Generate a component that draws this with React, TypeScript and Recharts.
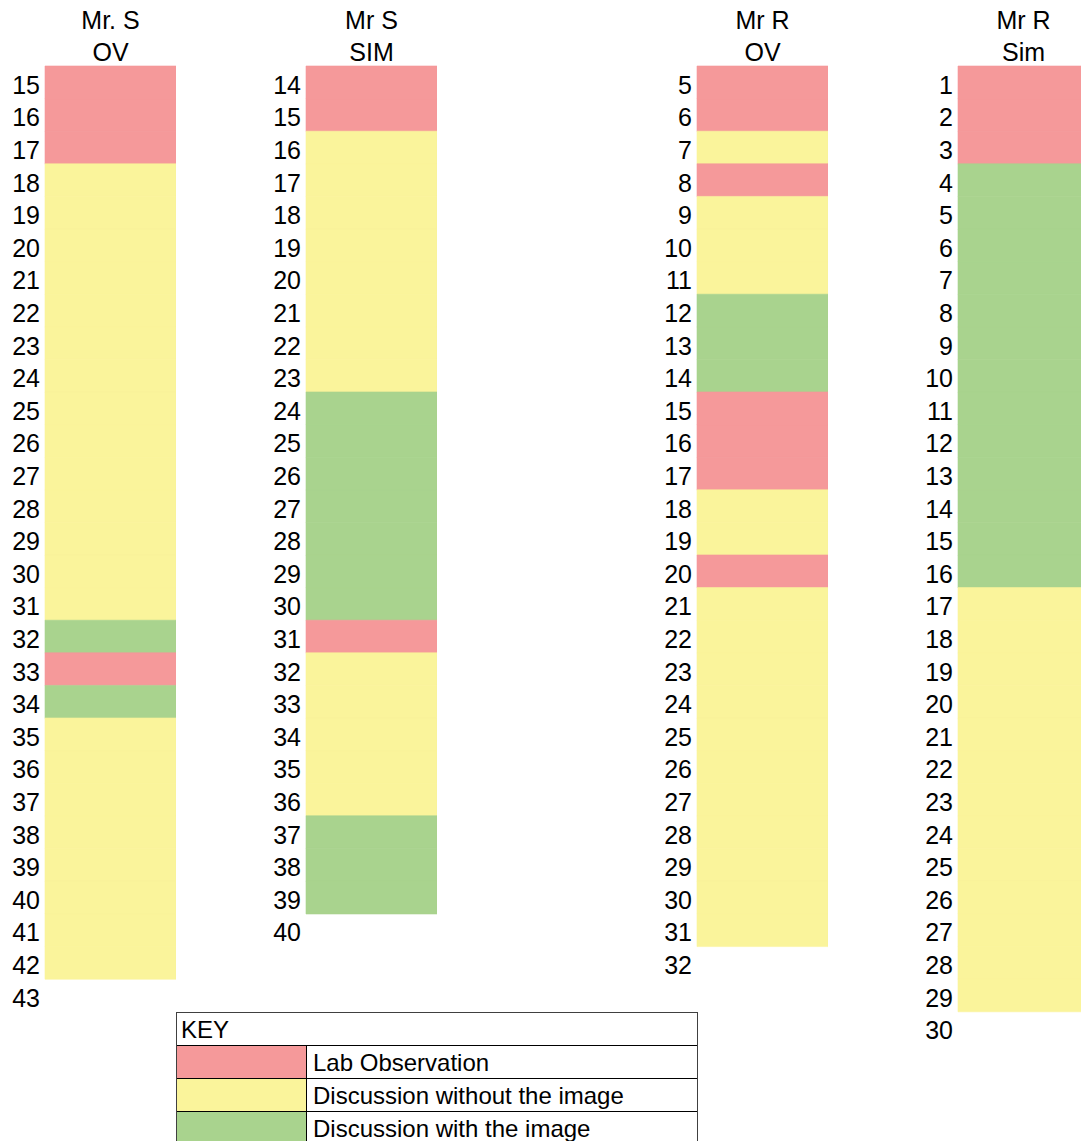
import { Bar, BarChart, Cell, XAxis, YAxis } from 'recharts';

// L = lab observation, N = discussion without the image, W = discussion with the image, '' = no segment
const COLORS: Record<string, string> = {
  L: '#F5999A',
  N: '#FAF49B',
  W: '#A9D38E',
};

const mrSOvRows = ['15', '16', '17', '18', '19', '20', '21', '22', '23', '24', '25', '26', '27', '28', '29', '30', '31', '32', '33', '34', '35', '36', '37', '38', '39', '40', '41', '42', '43'];
const mrSOvCodes = ['L', 'L', 'L', 'N', 'N', 'N', 'N', 'N', 'N', 'N', 'N', 'N', 'N', 'N', 'N', 'N', 'N', 'W', 'L', 'W', 'N', 'N', 'N', 'N', 'N', 'N', 'N', 'N', ''];

const mrSSimRows = ['14', '15', '16', '17', '18', '19', '20', '21', '22', '23', '24', '25', '26', '27', '28', '29', '30', '31', '32', '33', '34', '35', '36', '37', '38', '39', '40'];
const mrSSimCodes = ['L', 'L', 'N', 'N', 'N', 'N', 'N', 'N', 'N', 'N', 'W', 'W', 'W', 'W', 'W', 'W', 'W', 'L', 'N', 'N', 'N', 'N', 'N', 'W', 'W', 'W', ''];

const mrROvRows = ['5', '6', '7', '8', '9', '10', '11', '12', '13', '14', '15', '16', '17', '18', '19', '20', '21', '22', '23', '24', '25', '26', '27', '28', '29', '30', '31', '32'];
const mrROvCodes = ['L', 'L', 'N', 'L', 'N', 'N', 'N', 'W', 'W', 'W', 'L', 'L', 'L', 'N', 'N', 'L', 'N', 'N', 'N', 'N', 'N', 'N', 'N', 'N', 'N', 'N', 'N', ''];

const mrRSimRows = ['1', '2', '3', '4', '5', '6', '7', '8', '9', '10', '11', '12', '13', '14', '15', '16', '17', '18', '19', '20', '21', '22', '23', '24', '25', '26', '27', '28', '29', '30'];
const mrRSimCodes = ['L', 'L', 'L', 'W', 'W', 'W', 'W', 'W', 'W', 'W', 'W', 'W', 'W', 'W', 'W', 'W', 'N', 'N', 'N', 'N', 'N', 'N', 'N', 'N', 'N', 'N', 'N', 'N', 'N', ''];

const keyLabels = ['Lab Observation', 'Discussion without the image', 'Discussion with the image'];
const keyCodes = ['L', 'N', 'W'];

const FONT = '"Liberation Sans", Arial, sans-serif';
const ROW_H = 32.6;
const TOP = 66;
const LABEL_W = 45;
const BAR_W = 131;

type ColumnProps = {
  left: number;
  title: [string, string];
  rows: string[];
  codes: string[];
};

function RowTick(props: any) {
  const { x, y, payload } = props;
  return (
    <text x={x} y={y} dy={11.5} textAnchor="end" fill="#000" fontSize={25} fontFamily={FONT}>
      {payload.value}
    </text>
  );
}

function Column({ left, title, rows, codes }: ColumnProps) {
  const data = rows.map((row, i) => ({ row, code: codes[i], v: codes[i] ? 1 : 0 }));
  const height = TOP + rows.length * ROW_H;
  return (
    <div style={{ position: 'absolute', left, top: 0 }}>
      <div
        style={{
          position: 'absolute',
          left: LABEL_W,
          top: 4,
          width: BAR_W,
          textAlign: 'center',
          fontSize: 25,
          lineHeight: '32px',
          color: '#000',
          whiteSpace: 'nowrap',
        }}
      >
        <div>{title[0]}</div>
        <div>{title[1]}</div>
      </div>
      <BarChart
        width={LABEL_W + BAR_W}
        height={height}
        data={data}
        layout="vertical"
        barCategoryGap={0}
        barGap={0}
        margin={{ top: TOP, right: 0, bottom: 0, left: 0 }}
      >
        <XAxis type="number" domain={[0, 1]} hide />
        <YAxis
          type="category"
          dataKey="row"
          width={LABEL_W}
          interval={0}
          axisLine={false}
          tickLine={false}
          tickSize={0}
          tickMargin={5}
          tick={<RowTick />}
        />
        <Bar dataKey="v" isAnimationActive={false}>
          {data.map((d, i) => (
            <Cell
              key={i}
              fill={d.code ? COLORS[d.code] : 'none'}
              stroke={d.code ? COLORS[d.code] : 'none'}
              strokeWidth={0.6}
            />
          ))}
        </Bar>
      </BarChart>
    </div>
  );
}

function Key() {
  return (
    <div
      style={{
        position: 'absolute',
        left: 176,
        top: 1012,
        width: 522,
        border: '1px solid #404040',
        boxSizing: 'border-box',
        fontSize: 24,
        color: '#000',
        background: '#fff',
      }}
    >
      <div style={{ height: 32, lineHeight: '34px', paddingLeft: 4, borderBottom: '1px solid #000' }}>KEY</div>
      {keyLabels.map((label, i) => (
        <div key={label} style={{ display: 'flex', height: 32, borderBottom: i < keyLabels.length - 1 ? '1px solid #000' : 'none' }}>
          <div style={{ width: 129, background: COLORS[keyCodes[i]], borderRight: '1px solid #000' }} />
          <div style={{ paddingLeft: 6, lineHeight: '34px', whiteSpace: 'nowrap' }}>{label}</div>
        </div>
      ))}
    </div>
  );
}

export default function App() {
  return (
    <div
      style={{
        position: 'absolute',
        left: 0,
        top: 0,
        width: 1081,
        height: 1141,
        overflow: 'hidden',
        background: '#fff',
        fontFamily: FONT,
      }}
    >
      <Column left={0} title={['Mr. S', 'OV']} rows={mrSOvRows} codes={mrSOvCodes} />
      <Column left={261} title={['Mr S', 'SIM']} rows={mrSSimRows} codes={mrSSimCodes} />
      <Column left={652} title={['Mr R', 'OV']} rows={mrROvRows} codes={mrROvCodes} />
      <Column left={913} title={['Mr R', 'Sim']} rows={mrRSimRows} codes={mrRSimCodes} />
      <Key />
    </div>
  );
}
